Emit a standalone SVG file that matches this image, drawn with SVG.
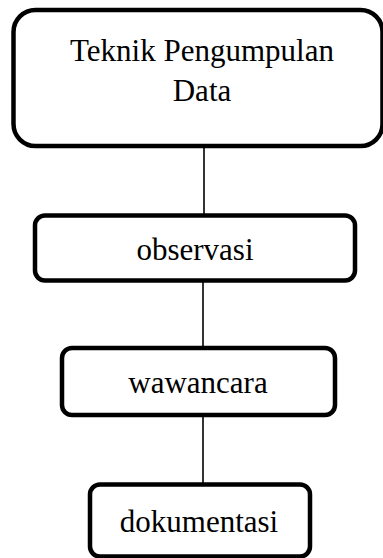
<svg xmlns="http://www.w3.org/2000/svg" width="383" height="558" viewBox="0 0 383 558">
<style>
.box{fill:#fff;stroke:#000;stroke-width:4.5}
.lbl{font-size:31px;fill:#000;text-anchor:middle}
.conn{stroke:#000;stroke-width:1.6;fill:none}
</style>
<rect width="383" height="558" fill="#fff"/>
<g id="connectors">
<line class="conn" x1="204" y1="148" x2="204" y2="214"/>
<line class="conn" x1="203" y1="282" x2="203" y2="347"/>
<line class="conn" x1="203" y1="416" x2="203" y2="483"/>
</g>
<g id="node-teknik">
<rect class="box" x="13.5" y="10" width="369" height="136" rx="22" ry="22"/>
<text class="lbl" font-family="Liberation Serif, DejaVu Serif, serif" x="202" y="61">Teknik Pengumpulan</text>
<text class="lbl" font-family="Liberation Serif, DejaVu Serif, serif" x="202" y="101">Data</text>
</g>
<g id="node-observasi">
<rect class="box" x="35" y="215.5" width="320" height="65" rx="10" ry="10"/>
<text class="lbl" font-family="Liberation Serif, DejaVu Serif, serif" x="195" y="260">observasi</text>
</g>
<g id="node-wawancara">
<rect class="box" x="62" y="348" width="273" height="67" rx="10" ry="10"/>
<text class="lbl" font-family="Liberation Serif, DejaVu Serif, serif" x="198" y="393">wawancara</text>
</g>
<g id="node-dokumentasi">
<rect class="box" x="90" y="484.5" width="220" height="72" rx="10" ry="10"/>
<text class="lbl" font-family="Liberation Serif, DejaVu Serif, serif" x="199" y="532">dokumentasi</text>
</g>
</svg>
